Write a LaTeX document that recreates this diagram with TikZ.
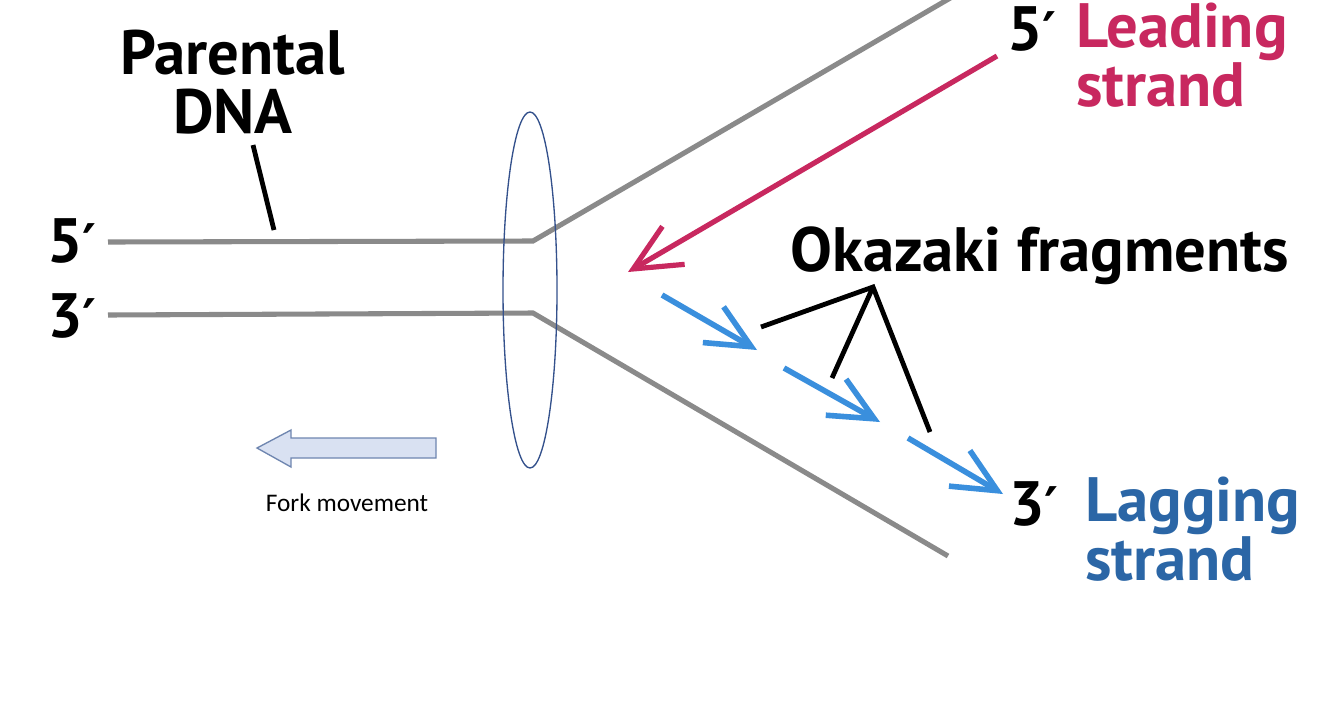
\documentclass[tikz,border=0pt]{standalone}
\usepackage{fontspec}
\setmainfont{PT Sans}
\newfontfamily\smallfont{Carlito}
\newfontfamily\primefont{DejaVu Sans}
\newcommand{\prm}{{\primefont\bfseries\fontsize{40}{40}\selectfont ′}}
\usetikzlibrary{arrows.meta,shapes.geometric}
\definecolor{strandgray}{HTML}{8A8A8A}
\definecolor{leadcol}{HTML}{C8285F}
\definecolor{lagcol}{HTML}{2B66A6}
\definecolor{okacol}{HTML}{3A8FDD}
\definecolor{ellcol}{HTML}{34518C}
\definecolor{forkfill}{HTML}{D9E1F2}
\definecolor{forkdraw}{HTML}{6F86B0}
\tikzset{
  strand/.style={draw=strandgray, line width=3.8pt},
  big/.style={font=\bfseries\fontsize{47}{41.5}\selectfont, inner sep=0pt, anchor=base west},
  pointer/.style={draw=black, line width=3.6pt},
  barb/.style={-{Straight Barb[length=33pt,width=31pt,line width=4.2pt]}, line width=4.2pt},
  bigbarb/.style={-{Straight Barb[length=35pt,width=33pt,line width=3.9pt]}, line width=3.9pt},
}
\begin{document}
\begin{tikzpicture}[x=0.75pt,y=-0.75pt]
\useasboundingbox[fill=white] (0,0) rectangle (1334,704);
% strands
\coordinate (u0) at (108,242);
\coordinate (u1) at (533,241);
\coordinate (u2) at (952,-3);
\coordinate (l0) at (108,315);
\coordinate (l1) at (533,313);
\coordinate (l2) at (948,556);
\draw[strand] (u0) -- (u1) -- (u2);
\draw[strand] (l0) -- (l1) -- (l2);
% ellipse
\node[draw=ellcol, line width=1pt, ellipse, minimum width=40.5pt, minimum height=267pt, inner sep=0pt] (fork) at (530,290) {};
% labels left
\node[big] (p5) at (47,262) {5\prm};
\node[big] (p3) at (47,337) {3\prm};
\node[big, font=\bfseries\fontsize{47}{44}\selectfont, align=center, anchor=north] (parental) at (233,30) {Parental\\DNA};
\coordinate (pt1) at (253,145);
\coordinate (pt2) at (274,230);
\draw[pointer] (pt1) -- (pt2);
% leading strand
\coordinate (ls0) at (997,56);
\coordinate (ls1) at (628,272);
\draw[bigbarb, leadcol] (ls0) -- (ls1);
\node[big] (r5) at (1007,50) {5\prm};
\node[big, align=left, anchor=north west, text=leadcol] (lead) at (1076,3) {Leading\\strand};
% okazaki
\coordinate (o1a) at (662,295); \coordinate (o1b) at (757,350);
\coordinate (o2a) at (784,368); \coordinate (o2b) at (880,422);
\coordinate (o3a) at (908,438); \coordinate (o3b) at (1003,494);
\draw[barb, okacol] (o1a) -- (o1b);
\draw[barb, okacol] (o2a) -- (o2b);
\draw[barb, okacol] (o3a) -- (o3b);
\node[big] (oka) at (790,271) {Okazaki fragments};
\coordinate (apex) at (873,287);
\coordinate (k1) at (761,327);
\coordinate (k2) at (832,378);
\coordinate (k3) at (930,432);
\draw[pointer, line join=miter] (k1) -- (apex) -- (k3);
\draw[pointer] (apex) -- (k2);
% lagging
\node[big] (l3) at (1009,525) {3\prm};
\node[big, align=left, anchor=north west, text=lagcol] (lag) at (1085,477) {Lagging\\strand};
% fork movement
\draw[fill=forkfill, draw=forkdraw, line width=1pt] (436,438) -- (291,438) -- (291,430) -- (257,448) -- (291,467) -- (291,458) -- (436,458) -- cycle;
\node[font=\smallfont\fontsize{19}{22}\selectfont, anchor=base] (forktext) at (347,511) {Fork movement};
\end{tikzpicture}
\end{document}
